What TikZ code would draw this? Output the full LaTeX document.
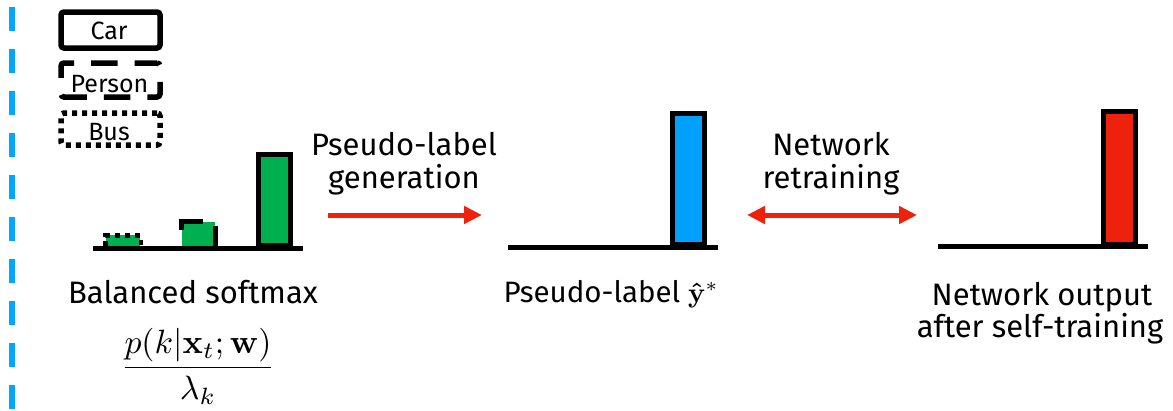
\documentclass[tikz,border=0pt]{standalone}
\usepackage{graphicx}
\usepackage[no-math]{fontspec}
\setmainfont{Fira Sans}
\usetikzlibrary{arrows.meta}
\definecolor{bargreen}{RGB}{0,176,80}
\definecolor{barblue}{RGB}{0,160,255}
\definecolor{barred}{RGB}{238,34,12}
\definecolor{sepblue}{RGB}{0,166,255}
\begin{document}
\begin{tikzpicture}[x=1pt,y=-1pt,
  lbl/.style={font=\fontsize{31}{37}\selectfont, inner sep=0, anchor=base},
  legtext/.style={font=\fontsize{25}{30}\selectfont, inner sep=0, anchor=base},
  legbox/.style={draw, line width=5.5pt, rounded corners=3pt, inner sep=0, minimum width=99pt},
  axisline/.style={line width=5pt},
  bar/.style={draw, line width=5pt, inner sep=0, minimum width=32pt, anchor=south},
  flow/.style={draw=barred, line width=5pt, >={Triangle[length=18pt,width=17pt]}}]
\useasboundingbox (0,0) rectangle (1173,410);

% separator on the left edge
\draw[sepblue, line width=6pt, dash pattern=on 24pt off 18pt] (12,7) -- (12,410);

% legend
\node[legbox, minimum height=36pt] (carbox) at (110.5,30) {};
\node[legbox, minimum height=34pt, dash pattern=on 26.5pt off 17pt, dash phase=4pt] (personbox) at (110.5,80) {};
\node[legbox, minimum height=32pt, dash pattern=on 5pt off 5pt] (busbox) at (110.5,129) {};
\node[legtext] (cartext) at (109,39) {Car};
\node[legtext] (persontext) at (109.5,92) {Person};
\node[legtext] (bustext) at (109,140) {Bus};

% balanced softmax histogram
\fill[bargreen] (106,235) rectangle (139.5,246);
\draw[line width=4.5pt, dash pattern=on 5pt off 5pt] (105.5,246) -- (105.5,235.5) -- (141,235.5) -- (141,246);
\fill[bargreen] (182,222) rectangle (215,246);
\draw[line width=5pt, dash pattern=on 20pt off 17pt on 30pt off 40pt] (215.5,246) -- (215.5,221.5) -- (181.5,221.5) -- (181.5,246);
\node[bar, fill=bargreen, minimum height=91.5pt] (carbar) at (274.5,248) {};
\draw[axisline] (93,248) -- (303,248);

% pseudo-label histogram
\node[bar, fill=barblue, minimum height=131.5pt] (plbar) at (688.5,247) {};
\draw[axisline] (508,247) -- (718,247);

% network output histogram
\node[bar, fill=barred, minimum height=133pt] (outbar) at (1119.5,246.5) {};
\draw[axisline] (938,246.5) -- (1148,246.5);

% step labels and arrows
\node[lbl] (gen1) at (404,155) {Pseudo-label};
\node[lbl] (gen2) at (404,188) {generation};
\coordinate (genA) at (328,215);
\coordinate (genB) at (482,215);
\draw[flow, ->] (genA) -- (genB);

\node[lbl] (ret1) at (831,155) {Network};
\node[lbl] (ret2) at (831,188) {retraining};
\coordinate (retA) at (747,215);
\coordinate (retB) at (917,215);
\draw[flow, <->] (retA) -- (retB);

% captions
\node[lbl] (cap1) at (193,303) {Balanced softmax};
\node[inner sep=0] (frac) at (198,366)
  {\scalebox{3.37}{\normalsize$\displaystyle\frac{p(k|\mathbf{x}_t;\mathbf{w})}{\lambda_k}$}};
\node[lbl, font=\fontsize{29.5}{35}\selectfont] (cap2) at (611,302)
  {Pseudo-label \scalebox{2.8}{\normalsize$\mathbf{\hat{y}}^{*}$}};
\node[lbl] (cap3a) at (1042,305) {Network output};
\node[lbl] (cap3b) at (1040,337) {after self-training};
\end{tikzpicture}
\end{document}
